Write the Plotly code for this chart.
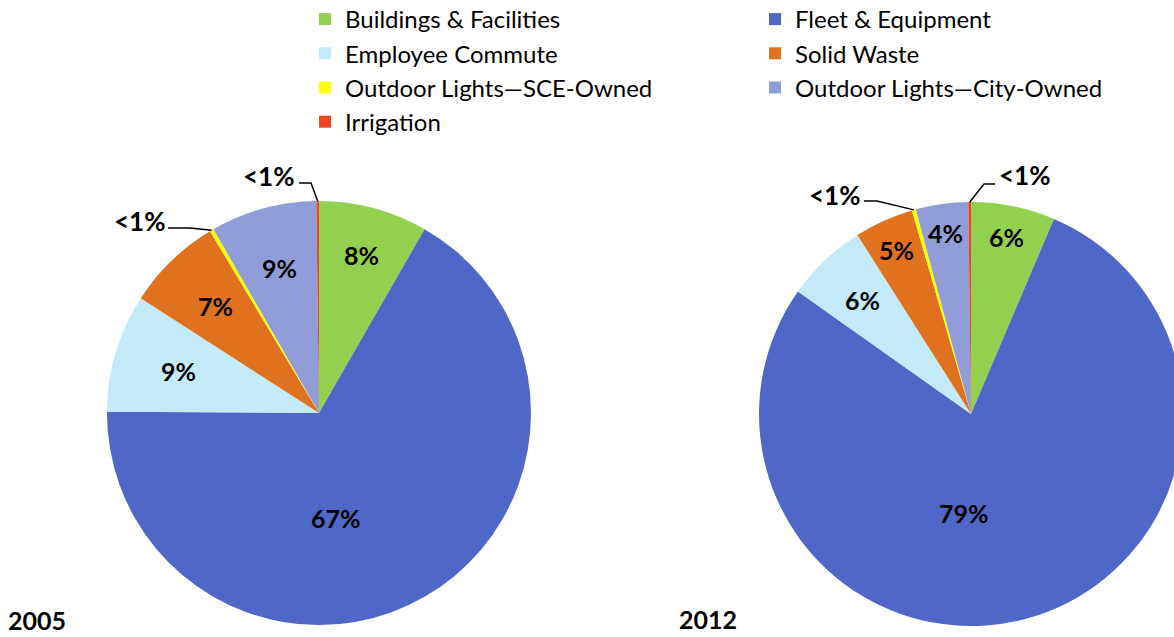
import math
import plotly.graph_objects as go

# Figure size (a bit wider than the window so the right pie is clipped at the edge, as in the reference)
FW, FH = 1190, 637
OFF = 0

categories = ["Buildings & Facilities", "Fleet & Equipment", "Employee Commute", "Solid Waste",
              "Outdoor Lights\u2014SCE-Owned", "Outdoor Lights\u2014City-Owned", "Irrigation"]
colors = ["#92D050", "#4F67C7", "#C2EAF9", "#E0711E", "#FFFF00", "#919DD8", "#F04424"]

values_2005 = [8.3, 66.8, 9.0, 7.3, 0.3, 8.1, 0.2]
values_2012 = [6.4, 78.4, 6.2, 4.5, 0.3, 4.0, 0.2]
text_2005 = ["8%", "67%", "9%", "7%", "<1%", "9%", "<1%"]
text_2012 = ["6%", "79%", "6%", "5%", "<1%", "4%", "<1%"]
years = ["2005", "2012"]

FONT = "Lato, 'Open Sans', Arial, sans-serif"


def px(sx):
    return (sx - OFF) / FW


def py(sy):
    return 1 - (sy - OFF) / FH


# ---- layout / style (screen pixels) ----
pie_geom = [dict(cx=319, cy=413, r=212), dict(cx=971, cy=414, r=212)]
# radial position (fraction of radius) of inside labels; None = leader-line label
label_rfrac = [[0.77, 0.50, 0.69, 0.70, None, 0.71, None],
               [0.85, 0.47, 0.74, 0.85, None, 0.86, None]]
# angle overrides (deg, clockwise from top) for the big slice labels
label_angle_override = [{1: 171}, {1: 184}]
# leader-line labels: slice index -> (text centre, elbow points before the slice edge)
leader_layout = [
    {6: ((268, 176), [(299, 183), (311, 183)]),
     4: ((139, 221), [(168, 228), (190, 228)])},
    {6: ((1024, 175), [(995, 184), (984, 184)]),
     4: ((835, 195), [(864, 201), (877, 201)])},
]
year_pos = [(37, 637), (708, 636)]

fig = go.Figure()
shapes, annotations = [], []
for i, (vals, txt) in enumerate([(values_2005, text_2005), (values_2012, text_2012)]):
    g = pie_geom[i]
    fig.add_trace(go.Pie(
        labels=categories, values=vals, textinfo="none",
        sort=False, direction="clockwise", rotation=0,
        marker=dict(colors=colors, line=dict(width=0)),
        domain=dict(x=[px(g["cx"] - g["r"]), px(g["cx"] + g["r"])],
                    y=[py(g["cy"] + g["r"]), py(g["cy"] - g["r"])]),
        hoverinfo="label+percent", showlegend=(i == 0),
    ))
    total = sum(vals)
    cum = 0.0
    for j, v in enumerate(vals):
        mid = (cum + v / 2) / total * 360.0
        cum += v
        if label_rfrac[i][j] is not None:
            ang = math.radians(label_angle_override[i].get(j, mid))
            rr = label_rfrac[i][j] * g["r"]
            sx = g["cx"] + rr * math.sin(ang)
            sy = g["cy"] - rr * math.cos(ang)
            annotations.append(dict(text=txt[j], x=px(sx), y=py(sy), xref="paper", yref="paper",
                                    showarrow=False, xanchor="center", yanchor="middle",
                                    font=dict(family=FONT, size=25, color="black", weight="bold")))
        else:
            (tx, ty), elbow = leader_layout[i][j]
            ang = math.radians(mid)
            ex = g["cx"] + g["r"] * math.sin(ang)
            ey = g["cy"] - g["r"] * math.cos(ang)
            pts = elbow + [(ex, ey)]
            path = "M " + " L ".join(f"{px(x)},{py(y)}" for x, y in pts)
            shapes.append(dict(type="path", path=path, xref="paper", yref="paper",
                               line=dict(color="black", width=1.5)))
            annotations.append(dict(text=txt[j], x=px(tx), y=py(ty), xref="paper", yref="paper",
                                    showarrow=False, xanchor="center", yanchor="middle",
                                    font=dict(family=FONT, size=26, color="black", weight="bold")))

for yr, (x, y) in zip(years, year_pos):
    annotations.append(dict(text=yr, x=px(x), y=py(y), xref="paper", yref="paper",
                            showarrow=False, xanchor="center", yanchor="bottom",
                            font=dict(family=FONT, size=25, color="black", weight="bold")))

fig.update_layout(
    width=FW, height=FH,
    margin=dict(l=0, r=0, t=0, b=0, autoexpand=False),
    paper_bgcolor="white", plot_bgcolor="white",
    showlegend=True,
    legend=dict(orientation="h", x=px(305), y=py(-3), xanchor="left", yanchor="top",
                entrywidth=405, font=dict(family=FONT, size=24, color="black"),
                traceorder="normal", bgcolor="rgba(0,0,0,0)"),
    shapes=shapes, annotations=annotations,
    font=dict(family=FONT),
)

fig.write_html("out.html", config={"displayModeBar": False},
               post_script="document.body.style.margin='0';document.body.style.overflow='hidden';")
